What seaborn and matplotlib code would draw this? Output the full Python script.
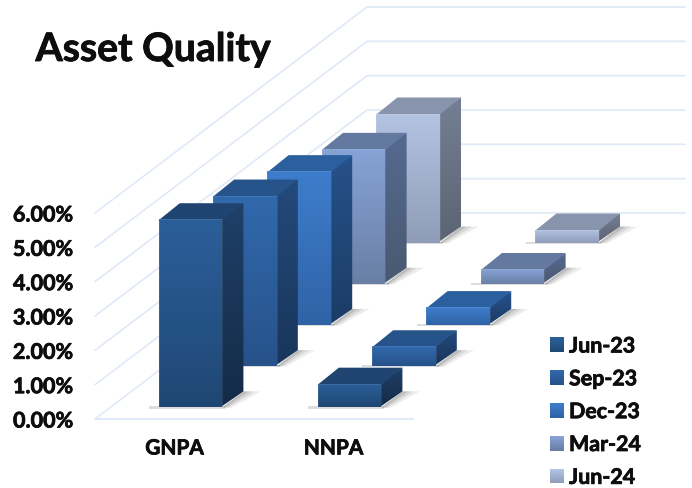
import numpy as np
import pandas as pd
import matplotlib
matplotlib.use("Agg")
import matplotlib.pyplot as plt
import matplotlib.patheffects as pe
from matplotlib.colors import to_rgb
from matplotlib.legend_handler import HandlerBase
from matplotlib.patches import Patch, Polygon, Rectangle
import seaborn as sns

# ---- data ----
categories = ["GNPA", "NNPA"]
quarters = ["Jun-23", "Sep-23", "Dec-23", "Mar-24", "Jun-24"]
gnpa = [5.48, 4.97, 4.48, 3.93, 3.76]
nnpa = [0.69, 0.58, 0.52, 0.43, 0.38]
y_ticks = [0, 1, 2, 3, 4, 5, 6]
y_tick_labels = ["0.00%", "1.00%", "2.00%", "3.00%", "4.00%", "5.00%", "6.00%"]
title_text = "Asset Quality"

# ---- styles: (front top, front bottom, side top, side bottom, roof) ----
shades = {
    "Jun-23": ("#2b5f9a", "#1f4774", "#1f4068", "#142b47", "#1f4472"),
    "Sep-23": ("#3169ad", "#27528a", "#234a7b", "#19355a", "#26548a"),
    "Dec-23": ("#3e7dcc", "#2f63a6", "#265189", "#1c3c66", "#2b5f9e"),
    "Mar-24": ("#86a3d6", "#6a7fa5", "#566a90", "#495971", "#63799f"),
    "Jun-24": ("#b3c3e2", "#8f9db8", "#757f94", "#5b6472", "#8794ab"),
}
grid_color = "#dfe9f7"
W, H = 692, 489
PLOT_LEFT, PLOT_RIGHT, PLOT_FLOOR, PLOT_TOP = 95, 413, 420, 214  # px
FLOOR_DX, FLOOR_DY = 272, 206                                    # px, whole depth
BAR_NUDGE_X, BAR_NUDGE_Y = -0.7, -1                              # px
BAR_WIDTH = 0.4
BAR_DEPTH = 0.39     # share of a series slot
SEAM = 0.012         # side and roof run this far under the front face
FONT = ["Lato", "DejaVu Sans"]
TEXT = "#0d0d0d"
HEAVY = [pe.withStroke(linewidth=0.55, foreground=TEXT)]

sns.set_theme(style="white")
plt.rcParams["font.family"] = FONT
plt.rcParams["font.weight"] = "bold"

df = pd.DataFrame({
    "quarter": quarters * 2,
    "metric": [categories[0]] * 5 + [categories[1]] * 5,
    "value": gnpa + nnpa,
})

fig = plt.figure(figsize=(W / 100, H / 100), dpi=100, facecolor="white")


def place(dx_px=0.0, dy_px=0.0):
    return [(PLOT_LEFT + dx_px) / W, (H - PLOT_FLOOR + dy_px) / H,
            (PLOT_RIGHT - PLOT_LEFT) / W, (PLOT_FLOOR - PLOT_TOP) / H]


XLIM = (-0.5, 1.5)
YLIM = (0, 6)
ux = (PLOT_RIGHT - PLOT_LEFT) / (XLIM[1] - XLIM[0])   # px per category
uy = (PLOT_FLOOR - PLOT_TOP) / (YLIM[1] - YLIM[0])    # px per 1%
wall_dx, wall_dy = FLOOR_DX / ux, FLOOR_DY / uy       # whole depth, data units


def ramp(c_top, c_bottom, n=64):
    a, b = np.array(to_rgb(c_top)), np.array(to_rgb(c_bottom))
    t = np.linspace(0, 1, n)[:, None, None]
    return a[None, None, :] * (1 - t) + b[None, None, :] * t


def gradient(ax, xs, ys, c_top, c_bottom, z):
    poly = Polygon(np.column_stack([xs, ys]), closed=True, transform=ax.transData,
                   facecolor="none", edgecolor="none")
    ax.add_patch(poly)
    im = ax.imshow(ramp(c_top, c_bottom), extent=(min(xs), max(xs), min(ys), max(ys)),
                   aspect="auto", origin="upper", interpolation="bilinear", zorder=z)
    im.set_clip_path(poly)
    return im


# ---- base axes: scale, labels, walls ----
base = fig.add_axes(place())
base.set_facecolor("none")
base.set_xlim(*XLIM)
base.set_ylim(*YLIM)
base.set_xticks([0, 1], categories)
base.set_yticks(y_ticks, y_tick_labels)
base.tick_params(axis="y", length=0, pad=16, labelsize=15.5, labelcolor=TEXT)
base.tick_params(axis="x", length=0, pad=14, labelsize=15.0, labelcolor=TEXT)
for lab in base.get_xticklabels() + base.get_yticklabels():
    lab.set_path_effects(HEAVY)
sns.despine(ax=base, left=True, bottom=True)
for v in y_ticks:
    base.plot([XLIM[0], XLIM[0] + wall_dx, XLIM[1] + wall_dx],
              [v, v + wall_dy, v + wall_dy], color=grid_color, lw=1.2, clip_on=False, zorder=0)
base.plot(XLIM, [0, 0], color=grid_color, lw=1.4, clip_on=False, zorder=0)

# ---- one transparent axes per series, from the back to the front ----
n_series = len(quarters)
depth_dx = BAR_DEPTH * wall_dx / n_series
depth_dy = BAR_DEPTH * wall_dy / n_series
for i in reversed(range(n_series)):
    q = quarters[i]
    f = (i + (1 - BAR_DEPTH) / 2) / n_series
    ax = fig.add_axes(place(f * FLOOR_DX + BAR_NUDGE_X, f * FLOOR_DY + BAR_NUDGE_Y),
                      zorder=10 + n_series - i)
    ax.patch.set_alpha(0)
    sub = df[df["quarter"] == q]
    sns.barplot(data=sub, x="metric", y="value", order=categories, width=BAR_WIDTH,
                color=shades[q][0], errorbar=None, ax=ax, saturation=1)
    front_top, front_bot, side_top, side_bot, roof = shades[q]
    for bar in list(ax.patches):
        x0, x1 = bar.get_x(), bar.get_x() + bar.get_width()
        h = bar.get_height()
        # soft floor shadow
        for grow, alpha in ((0.11, 0.10), (0.07, 0.14), (0.035, 0.20)):
            ax.fill([x1, x1 + depth_dx, x1 + depth_dx + grow, x1 + grow * 0.5],
                    [0, depth_dy, depth_dy, -0.015], color="#555555", alpha=alpha,
                    lw=0, zorder=0.5, clip_on=False)
        ax.fill([x0 - 0.06, x1 + 0.02, x1 + 0.02, x0 - 0.06], [-0.035, -0.035, 0.03, 0.03],
                color="#666666", alpha=0.22, lw=0, zorder=0.5, clip_on=False)
        # right side
        gradient(ax, [x1 - SEAM, x1 + depth_dx, x1 + depth_dx, x1 - SEAM],
                 [h, h + depth_dy, depth_dy, 0], side_top, side_bot, 2)
        # roof
        ax.fill([x0, x0 + depth_dx, x1 + depth_dx, x1], [h - 0.03, h + depth_dy, h + depth_dy, h - 0.03],
                color=roof, lw=0, zorder=2.5, clip_on=False)
        # front, from the seaborn bar
        gradient(ax, [x0, x1, x1, x0], [h, h, 0, 0], front_top, front_bot, 3)
        bar.set_facecolor("none")
        bar.set_edgecolor((1, 1, 1, 0.10))
        bar.set_linewidth(0.6)
        bar.set_zorder(4)
    ax.set_xlim(*XLIM)
    ax.set_ylim(*YLIM)
    ax.axis("off")

# ---- title ----
fig.text(35.5 / W, 1 - 62 / H, title_text, fontsize=28.2, fontweight="bold",
         color=TEXT, ha="left", va="baseline", zorder=50,
         path_effects=[pe.withStroke(linewidth=0.6, foreground=TEXT)])


# ---- legend with gradient keys ----
class RampHandler(HandlerBase):
    def create_artists(self, legend, orig, xd, yd, width, height, fontsize, trans):
        top, bottom = orig.get_gid().split(",")
        cols = ramp(top, bottom, 14)[:, 0, :]
        size = height
        out = []
        for k, c in enumerate(cols):
            out.append(Rectangle((xd * -1, -yd + size * (1 - (k + 1) / len(cols))),
                                 size, size / len(cols) + 0.3, facecolor=c, edgecolor="none",
                                 transform=trans))
        return out


handles = []
for q in quarters:
    p = Patch(label=q)
    p.set_gid(f"{shades[q][0]},{shades[q][1]}")
    handles.append(p)
leg_ax = fig.add_axes([0, 0, 1, 1], zorder=40)
leg_ax.axis("off")
leg = leg_ax.legend(handles=handles, labels=quarters, handler_map={Patch: RampHandler()},
                    loc="upper left", bbox_to_anchor=(550 / W, 1 - 337.5 / H), frameon=False,
                    handlelength=0.65, handleheight=0.65, handletextpad=0.24,
                    labelspacing=0.6, borderpad=0, borderaxespad=0,
                    labelcolor=TEXT, prop={"family": FONT, "weight": "bold", "size": 15.4})
for t in leg.get_texts():
    t.set_path_effects(HEAVY)

fig.savefig("out.png", dpi=100)
